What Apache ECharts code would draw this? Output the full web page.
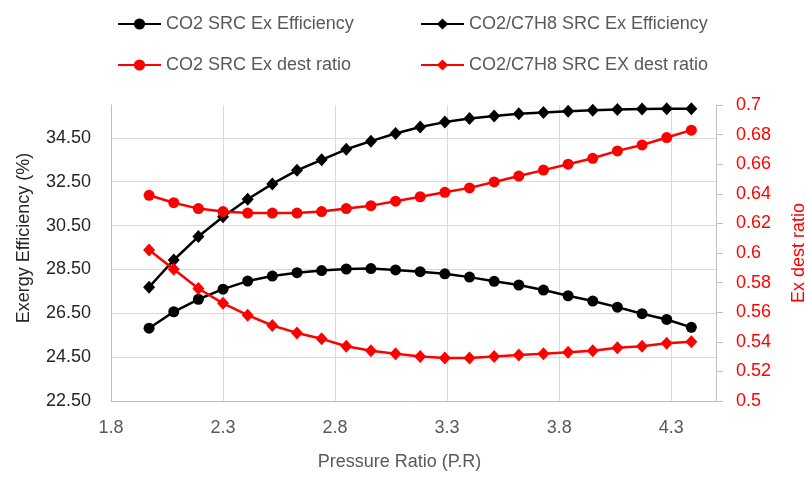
<!DOCTYPE html>
<html>
<head>
<meta charset="utf-8">
<script src="https://cdn.jsdelivr.net/npm/echarts@6/dist/echarts.min.js"></script>
<style>
html, body { margin: 0; padding: 0; background: #fff; }
#chart { width: 806px; height: 479px; }
</style>
</head>
<body>
<div id="chart"></div>
<script>
// pressure ratio values of the points
const pressureRatio = [1.97, 2.08, 2.19, 2.30, 2.41, 2.52, 2.63, 2.74, 2.85, 2.96, 3.07, 3.18,
  3.29, 3.40, 3.51, 3.62, 3.73, 3.84, 3.95, 4.06, 4.17, 4.28, 4.39];

// exergy efficiency (%), left axis
const co2ExEff = [25.82, 26.57, 27.14, 27.60, 27.97, 28.20, 28.35, 28.45, 28.52, 28.54, 28.48, 28.40,
  28.30, 28.15, 27.96, 27.79, 27.56, 27.30, 27.06, 26.78, 26.48, 26.22, 25.86];
const mixExEff = [27.69, 28.93, 30.00, 30.90, 31.70, 32.40, 33.02, 33.50, 33.98, 34.35, 34.70, 35.00,
  35.22, 35.38, 35.50, 35.60, 35.66, 35.72, 35.76, 35.80, 35.82, 35.83, 35.83];

// exergy destruction ratio, right axis
const co2DestRatio = [0.639, 0.634, 0.630, 0.628, 0.627, 0.627, 0.627, 0.628, 0.630, 0.632, 0.635, 0.638,
  0.641, 0.644, 0.648, 0.652, 0.656, 0.660, 0.664, 0.669, 0.673, 0.678, 0.683];
const mixDestRatio = [0.602, 0.589, 0.576, 0.566, 0.558, 0.551, 0.546, 0.542, 0.537, 0.534, 0.532, 0.530,
  0.529, 0.529, 0.530, 0.531, 0.532, 0.533, 0.534, 0.536, 0.537, 0.539, 0.540];

const xTicks = [1.8, 2.3, 2.8, 3.3, 3.8, 4.3];
const leftTicks = [22.5, 24.5, 26.5, 28.5, 30.5, 32.5, 34.5];

const names = ['CO2 SRC Ex Efficiency', 'CO2/C7H8 SRC Ex Efficiency',
  'CO2 SRC Ex dest ratio', 'CO2/C7H8 SRC EX dest ratio'];

const font = 'Liberation Sans';
const grey = '#595959';
const dark = '#262626';

function pairs(xs, ys) {
  return xs.map((x, i) => [x, ys[i]]);
}

function legendAt(name, left, top) {
  return {
    data: [name], left: left, top: top,
    itemWidth: 43, itemHeight: 14,
    textStyle: { fontFamily: font, fontSize: 18, color: grey }
  };
}

function lineSeries(name, data, color, symbol, size, axis) {
  return {
    name: name, type: 'line', yAxisIndex: axis,
    data: data, symbol: symbol, symbolSize: size,
    lineStyle: { color: color, width: 2.5 },
    itemStyle: { color: color },
    emphasis: { disabled: true }
  };
}

const chart = echarts.init(document.getElementById('chart'), null, { renderer: 'canvas' });
chart.setOption({
  animation: false,
  backgroundColor: '#fff',
  textStyle: { fontFamily: font },
  legend: [
    legendAt(names[0], 112, 10),
    legendAt(names[1], 415, 10),
    legendAt(names[2], 112, 51),
    legendAt(names[3], 415, 51)
  ],
  grid: { left: 111, right: 90, top: 105, bottom: 78, containLabel: false, outerBoundsMode: 'none' },
  xAxis: {
    type: 'value', min: 1.8, max: 4.5,
    name: 'Pressure Ratio (P.R)', nameLocation: 'middle', nameGap: 52,
    nameTextStyle: { fontFamily: font, fontSize: 18, color: grey, padding: [0, 28, 0, 0] },
    axisLine: { show: true, lineStyle: { color: '#bfbfbf' } },
    axisTick: { show: false, customValues: xTicks },
    axisLabel: { customValues: xTicks, color: grey, fontSize: 18, margin: 18,
      formatter: v => v.toFixed(1) },
    splitLine: { show: true, lineStyle: { color: '#d9d9d9' } }
  },
  yAxis: [{
    type: 'value', min: 22.5, max: 36, position: 'left',
    name: 'Exergy Efficiency (%)', nameLocation: 'middle', nameGap: 78, nameRotate: 90,
    nameTextStyle: { fontFamily: font, fontSize: 18, color: dark, padding: [0, 0, 0, 30] },
    axisLine: { show: true, lineStyle: { color: '#bfbfbf' } },
    axisTick: { show: false, customValues: leftTicks },
    axisLabel: { customValues: leftTicks, color: dark, fontSize: 18, margin: 20,
      formatter: v => v.toFixed(2) },
    splitLine: { show: true, lineStyle: { color: '#d9d9d9' } }
  }, {
    type: 'value', min: 0.5, max: 0.7, interval: 0.02, position: 'right',
    name: 'Ex dest ratio', nameLocation: 'middle', nameGap: 74, nameRotate: 90,
    nameTextStyle: { fontFamily: font, fontSize: 18, color: '#ff0000' },
    axisLine: { show: true, lineStyle: { color: '#bfbfbf' } },
    axisTick: { show: true, inside: false, length: 7, lineStyle: { color: '#bfbfbf' } },
    axisLabel: { color: '#ff0000', fontSize: 18, margin: 20 },
    splitLine: { show: false }
  }],
  series: [
    lineSeries(names[0], pairs(pressureRatio, co2ExEff), '#000000', 'circle', 11, 0),
    lineSeries(names[1], pairs(pressureRatio, mixExEff), '#000000', 'diamond', [12, 13], 0),
    lineSeries(names[2], pairs(pressureRatio, co2DestRatio), '#ff0000', 'circle', 11, 1),
    lineSeries(names[3], pairs(pressureRatio, mixDestRatio), '#ff0000', 'diamond', [12, 13], 1)
  ]
});
</script>
</body>
</html>
